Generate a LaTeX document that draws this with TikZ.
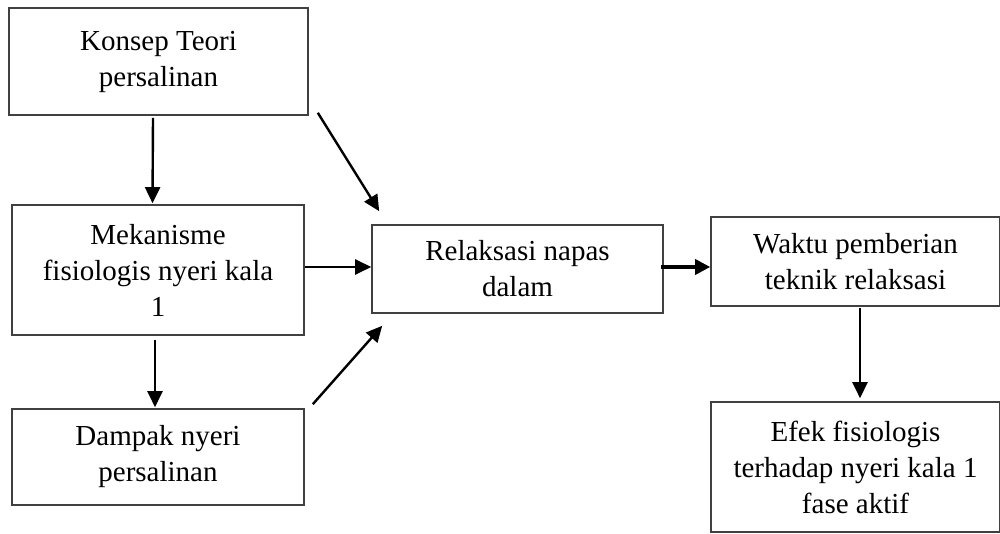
\documentclass[tikz,border=0pt]{standalone}
\usepackage{fontspec}
\setmainfont{Liberation Serif}
\usetikzlibrary{arrows.meta}
\begin{document}
\begin{tikzpicture}[x=1pt,y=-1pt,
  box/.style={draw=black!75, line width=1.6pt, rectangle, inner sep=0pt, align=center,
    font=\fontsize{29}{36}\selectfont},
  arr/.style={line width=2.4pt, -{Triangle[length=16pt,width=15pt]}},
  arrthick/.style={line width=3.4pt, -{Triangle[length=15pt,width=15pt]}}]
\useasboundingbox (0,0) rectangle (1000,534);
\node[box, minimum width=299pt, minimum height=107pt] (b1) at (158.5,61.5) {Konsep Teori\\persalinan};
\node[box, minimum width=292pt, minimum height=130pt] (b2) at (158,270) {Mekanisme\\fisiologis nyeri kala\\1};
\node[box, minimum width=292pt, minimum height=96pt] (b3) at (158,457) {Dampak nyeri\\persalinan};
\node[box, minimum width=291pt, minimum height=88pt] (b4) at (517.5,269) {Relaksasi napas\\dalam};
\node[box, minimum width=289pt, minimum height=89pt] (b5) at (855.5,261.5) {Waktu pemberian\\teknik relaksasi};
\node[box, minimum width=289pt, minimum height=130pt] (b6) at (855.5,467) {Efek fisiologis\\terhadap nyeri kala 1\\fase aktif};
\draw[arr] ([xshift=-5.5pt,yshift=-2pt]b1.south) -- ([xshift=-5.5pt,yshift=1pt]b2.north);
\draw[arr] ([xshift=9pt,yshift=3pt]b1.south east) -- ([xshift=8pt,yshift=13pt]b4.north west);
\draw[arr] ([yshift=3pt]b2.east) -- ([yshift=2pt]b4.west);
\draw[arr] ([xshift=-3pt,yshift=-4pt]b2.south) -- ([xshift=-3pt,yshift=1pt]b3.north);
\draw[arr] ([xshift=8pt,yshift=4pt]b3.north east) -- ([xshift=11pt,yshift=-12pt]b4.south west);
\draw[arrthick] ([xshift=-3pt,yshift=2pt]b4.east) -- ([yshift=-5.5pt]b5.west);
\draw[arr] ([xshift=4.5pt,yshift=-1pt]b5.south) -- ([xshift=4.5pt,yshift=3pt]b6.north);
\end{tikzpicture}
\end{document}
